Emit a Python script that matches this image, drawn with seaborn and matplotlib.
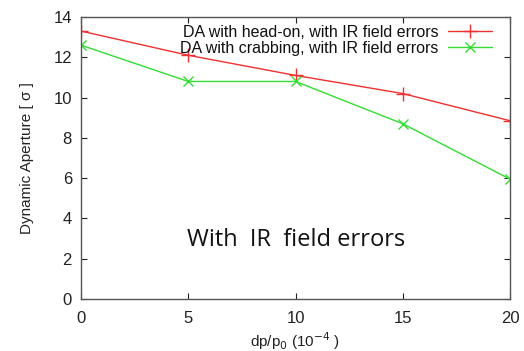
import matplotlib
matplotlib.use("Agg")
import matplotlib.pyplot as plt
import seaborn as sns
import pandas as pd

# data
dp = [0, 5, 10, 15, 20]
da_headon = [13.3, 12.1, 11.1, 10.2, 8.85]
da_crab = [12.6, 10.8, 10.8, 8.7, 5.95]
label_headon = "DA with head-on, with IR field errors"
label_crab = "DA with crabbing, with IR field errors"

df = pd.DataFrame({"dp": dp, "headon": da_headon, "crab": da_crab})

sns.set_style("ticks")
plt.rcParams['font.family'] = ['Liberation Sans', 'DejaVu Sans']

red = "#f03030"
green = "#33dd33"

fig = plt.figure(figsize=(5.24, 3.51), dpi=100)
ax = fig.add_axes([0.1546, 0.148, 0.8187, 0.8036])

sns.lineplot(data=df, x="dp", y="headon", ax=ax, color=red, marker="+",
             markersize=10, markeredgewidth=1.0, markeredgecolor=red,
             linewidth=1.0, label=label_headon)
sns.lineplot(data=df, x="dp", y="crab", ax=ax, color=green, marker="x",
             markersize=7, markeredgewidth=1.0, markeredgecolor=green,
             linewidth=1.0, label=label_crab)

ax.set_xlim(0, 20)
ax.set_ylim(0, 14)
ax.set_xticks([0, 5, 10, 15, 20])
ax.set_yticks([0, 2, 4, 6, 8, 10, 12, 14])
ax.tick_params(direction="in", top=True, right=True, length=4, width=0.8,
               labelsize=12, colors="#222222", pad=6.5)
ax.tick_params(axis="x", pad=8.5)
for s in ax.spines.values():
    s.set_color("#555555")
    s.set_linewidth(1.0)

ax.set_xlabel("dp/p$_0$ (10$^{-4}$ )", fontsize=11, color="#222222", labelpad=3)
ax.set_ylabel("Dynamic Aperture [ σ ]", fontsize=11, color="#222222", labelpad=14)

leg = ax.legend(loc="upper right", bbox_to_anchor=(0.958, 0.972), frameon=False,
                markerfirst=False, fontsize=11.5, handlelength=2.75,
                handletextpad=0.6, borderaxespad=0, borderpad=0,
                labelspacing=0.05)
for t in leg.get_texts():
    t.set_color("#111111")

ax.text(10.05, 2.63, "With  IR  field errors", ha="center", va="baseline",
        fontsize=17, family=["Open Sans", "DejaVu Sans"], color="#111111")

fig.savefig("out.png", dpi=100)
